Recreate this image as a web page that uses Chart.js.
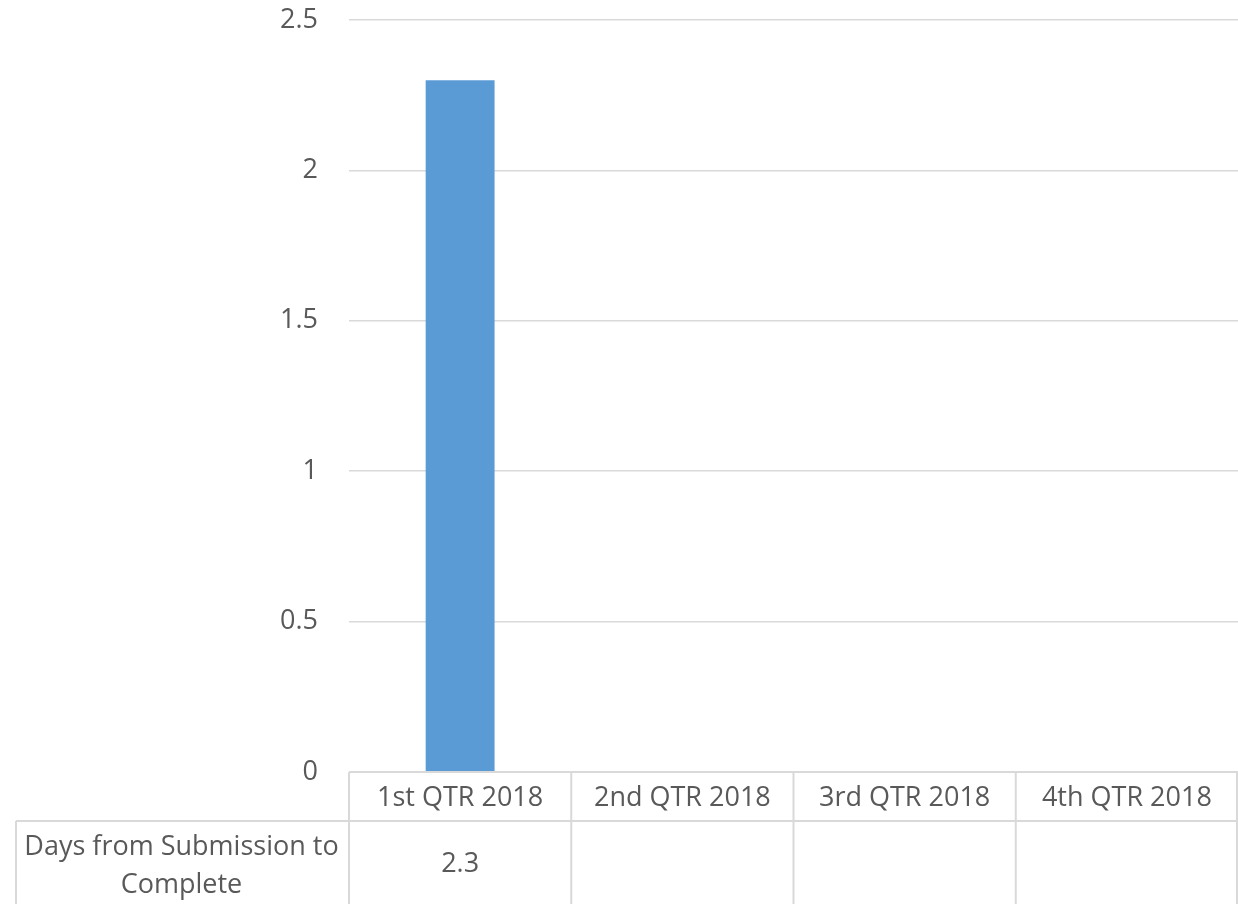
<!DOCTYPE html>
<html lang="en">
<head>
  <meta charset="UTF-8" />
  <title>Days from Submission to Complete</title>
  <script src="https://cdn.jsdelivr.net/npm/chart.js"></script>
  <style>
    body {
      margin: 0;
      background: #fff;
    }
    #wrap {
      width: 1238px;
      height: 904px;
    }
  </style>
</head>
<body>
  <div id="wrap">
    <canvas id="qtrChart" width="1238" height="904"></canvas>
  </div>

  <script>
    const quarters = ['1st QTR 2018', '2nd QTR 2018', '3rd QTR 2018', '4th QTR 2018'];
    const seriesName = 'Days from Submission to Complete';
    const daysValues = [2.3, null, null, null];
    const yTicks = [0, 0.5, 1, 1.5, 2, 2.5];

    const FONT = "'Open Sans', 'Noto Sans', sans-serif";
    const FONT_SIZE = 27;
    const TEXT = '#595959';
    const LINE = '#d9d9d9';

    // draws the data table under the plot (category row + value row)
    const dataTable = {
      id: 'dataTable',
      afterDraw(chart) {
        const { ctx, chartArea, scales } = chart;
        const x = scales.x;
        const top = chartArea.bottom;
        const rowSplit = top + 49;
        const bottom = 904;
        const tableLeft = 16;
        const right = chartArea.right - 1;
        const colW = (chartArea.right - chartArea.left) / quarters.length;

        ctx.save();
        ctx.strokeStyle = LINE;
        ctx.lineWidth = 2;
        ctx.beginPath();
        ctx.moveTo(chartArea.left, top); ctx.lineTo(right, top);
        ctx.moveTo(tableLeft, rowSplit); ctx.lineTo(right, rowSplit);
        ctx.moveTo(tableLeft, rowSplit); ctx.lineTo(tableLeft, bottom);
        for (let i = 0; i <= quarters.length; i++) {
          const px = i === quarters.length ? right : chartArea.left + i * colW;
          ctx.moveTo(px, top); ctx.lineTo(px, bottom);
        }
        ctx.stroke();

        ctx.fillStyle = TEXT;
        ctx.font = FONT_SIZE + 'px ' + FONT;
        ctx.textAlign = 'center';
        ctx.textBaseline = 'middle';
        quarters.forEach((q, i) => {
          const cx = x.getPixelForValue(i);
          ctx.fillText(q, cx, (top + rowSplit) / 2 + 2);
          const v = daysValues[i];
          if (v !== null) ctx.fillText(String(v), cx, (rowSplit + bottom) / 2 + 2);
        });

        // series name, wrapped to the left column
        const maxW = chartArea.left - tableLeft - 8;
        const words = seriesName.split(' ');
        const lines = [];
        let line = '';
        words.forEach(w => {
          const test = line ? line + ' ' + w : w;
          if (ctx.measureText(test).width > maxW && line) {
            lines.push(line);
            line = w;
          } else {
            line = test;
          }
        });
        lines.push(line);
        const lh = 38;
        const midX = (tableLeft + chartArea.left) / 2 - 1;
        const startY = (rowSplit + bottom) / 2 + 4 - (lines.length - 1) * lh / 2;
        lines.forEach((l, i) => ctx.fillText(l, midX, startY + i * lh));
        ctx.restore();
      }
    };

    const ctx = document.getElementById('qtrChart').getContext('2d');
    new Chart(ctx, {
      type: 'bar',
      data: {
        labels: quarters,
        datasets: [{
          label: seriesName,
          data: daysValues,
          backgroundColor: '#5b9bd5',
          borderWidth: 0,
          categoryPercentage: 0.5,
          barPercentage: 0.62
        }]
      },
      options: {
        responsive: false,
        devicePixelRatio: 1,
        animation: false,
        layout: { padding: { top: 20, left: 0, right: 0, bottom: 0 } },
        plugins: {
          legend: { display: false },
          tooltip: { enabled: false }
        },
        scales: {
          x: {
            grid: { display: false },
            border: { display: false },
            ticks: { display: false },
            afterFit(scale) { scale.height = 132; }
          },
          y: {
            min: 0,
            max: 2.5,
            afterBuildTicks(scale) {
              scale.ticks = yTicks.map(v => ({ value: v }));
            },
            grid: { color: LINE, lineWidth: 1.5, drawTicks: false },
            border: { display: false },
            ticks: {
              color: TEXT,
              font: { family: FONT, size: FONT_SIZE },
              padding: 31,
              callback: v => String(v)
            },
            afterFit(scale) {
              scale.width = 349;
              scale.paddingTop = 0;
              scale.paddingBottom = 0;
            }
          }
        }
      },
      plugins: [dataTable]
    });
  </script>
</body>
</html>
